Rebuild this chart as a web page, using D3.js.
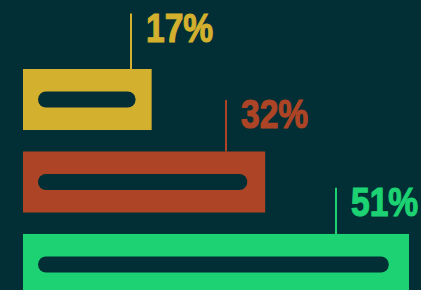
<!DOCTYPE html>
<html>
<head>
<meta charset="utf-8">
<script src="https://cdn.jsdelivr.net/npm/d3@7"></script>
<style>
  html, body { margin: 0; padding: 0; background: #012f35; overflow: hidden; }
</style>
</head>
<body>
<div id="canvas"></div>
<script>
var width = 421, height = 290;

// data
const categories = ["a", "b", "c"];
const values = [17, 32, 51];
const labels = ["17%", "32%", "51%"];
const colors = ["#d4b02f", "#ad4425", "#1cd272"];

const bg = "#012f35";

const data = categories.map((c, i) => ({cat: c, value: values[i], label: labels[i], color: colors[i]}));

const svg = d3.select("#canvas")
    .append("svg")
    .attr("width", width)
    .attr("height", height)
    .style("background-color", bg)
    .style("display", "block");

// scales
const xScale = d3.scaleLinear()
    .domain([0, 51])
    .range([23, 409]);

const yScale = d3.scaleBand()
    .domain(categories)
    .range([69, 295])
    .paddingInner(0.26)
    .paddingOuter(0);

const pillH = 16;

const g = svg.selectAll("g.bar")
    .data(data)
    .join("g")
    .attr("class", "bar");

// main bars
g.append("rect")
    .attr("x", xScale(0))
    .attr("y", d => yScale(d.cat))
    .attr("width", d => xScale(d.value) - xScale(0))
    .attr("height", yScale.bandwidth())
    .attr("fill", d => d.color);

// dark pill inside each bar
g.append("rect")
    .attr("x", xScale(0) + 15)
    .attr("y", d => yScale(d.cat) + (yScale.bandwidth() - pillH) / 2)
    .attr("width", d => {
        const w = xScale(d.value) - xScale(0);
        return w - 15 - (14 + w * 0.016);
    })
    .attr("height", pillH)
    .attr("rx", pillH / 2)
    .attr("fill", bg);

// labels first so we can measure them
const squeeze = 0.84; // fake a condensed face
const txt = g.append("text")
    .text(d => d.label)
    .attr("font-family", "'Liberation Sans', Arial, sans-serif")
    .attr("font-weight", "bold")
    .attr("font-size", 40)
    .attr("fill", d => d.color)
    .attr("stroke", d => d.color)
    .attr("stroke-width", 1.2);

const gap = 15;
txt.each(function(d) {
    const tw = this.getComputedTextLength() * squeeze;
    const w = xScale(d.value) - xScale(0);
    let lx = Math.round(xScale(0) + w * 0.84);
    lx = Math.min(lx, width - 3 - tw - gap);
    d.lx = Math.round(lx);
    d.top = yScale(d.cat) - (61 - d.value * 0.27);
    d3.select(this)
        .attr("transform", "translate(" + (d.lx + gap) + "," + (d.top + 29) + ") scale(" + squeeze + ",1)");
});

// connector lines
g.append("line")
    .attr("x1", d => d.lx)
    .attr("x2", d => d.lx)
    .attr("y1", d => d.top + 1)
    .attr("y2", d => yScale(d.cat))
    .attr("stroke", d => d.color)
    .attr("stroke-width", 2);
</script>
</body>
</html>
